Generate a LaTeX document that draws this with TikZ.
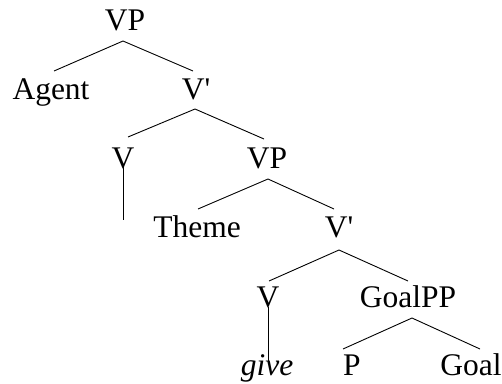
\documentclass[tikz,border=0pt]{standalone}
\usepackage{fontspec}
\setmainfont{Liberation Serif}
\begin{document}
\begin{tikzpicture}[x=1pt,y=-1pt,
  lbl/.style={anchor=base,inner sep=0pt,font=\fontsize{31.5}{36}\selectfont},
  edge/.style={line width=0.9pt}]
\useasboundingbox (0,0) rectangle (502,383);
% labels
\node[lbl] (vp1) at (125,30) {VP};
\node[lbl] (agent) at (51,99) {Agent};
\node[lbl] (vb1) at (196,99) {V\textquotesingle};
\node[lbl] (v1) at (123,168) {V};
\node[lbl] (vp2) at (267,168) {VP};
\node[lbl] (theme) at (197,237) {Theme};
\node[lbl] (vb2) at (339,237) {V\textquotesingle};
\node[lbl] (v2) at (268,307) {V};
\node[lbl] (goalpp) at (408,307) {GoalPP};
\node[lbl] (give) at (267,375) {\itshape give};
\node[lbl] (p) at (352,375) {P};
\node[lbl] (goal) at (471,375) {Goal};
% branch points
\coordinate (a1) at (123,41);
\coordinate (e1l) at (54,71);
\coordinate (e1r) at (193,71);
\coordinate (a2) at (195,109);
\coordinate (e2l) at (128,137);
\coordinate (e2r) at (264,139);
\coordinate (t1) at (123,167);
\coordinate (b1) at (123,220);
\coordinate (a3) at (268,179);
\coordinate (e3l) at (198,209);
\coordinate (e3r) at (334,209);
\coordinate (a4) at (339,250);
\coordinate (e4l) at (269,281);
\coordinate (e4r) at (408,281);
\coordinate (t2) at (268,307);
\coordinate (b2) at (268,364);
\coordinate (a5) at (412,318);
\coordinate (e5l) at (343,349);
\coordinate (e5r) at (480,349);
% edges
\draw[edge] (e1l) -- (a1) -- (e1r);
\draw[edge] (e2l) -- (a2) -- (e2r);
\draw[edge] (t1) -- (b1);
\draw[edge] (e3l) -- (a3) -- (e3r);
\draw[edge] (e4l) -- (a4) -- (e4r);
\draw[edge] (t2) -- (b2);
\draw[edge] (e5l) -- (a5) -- (e5r);
\end{tikzpicture}
\end{document}
